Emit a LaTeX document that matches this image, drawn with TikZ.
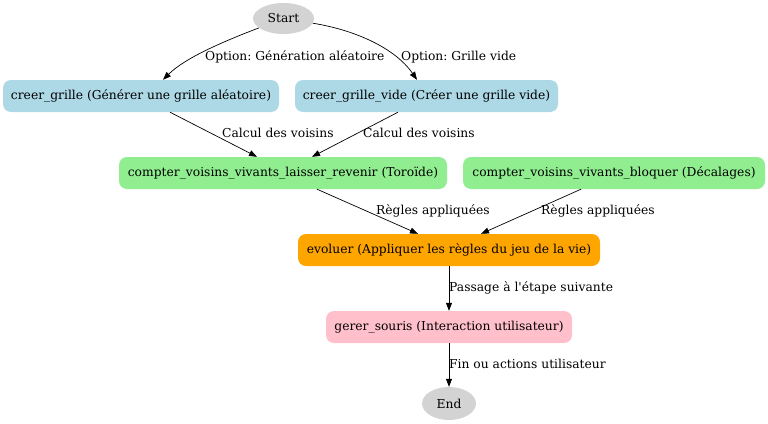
\documentclass[tikz,border=0pt]{standalone}
\usepackage{fontspec}
\setmainfont{DejaVu Serif}
\usetikzlibrary{arrows.meta,shapes.geometric}
\definecolor{lblue}{HTML}{ADD8E6}
\definecolor{lgreen}{HTML}{90EE90}
\definecolor{lgray}{HTML}{D3D3D3}
\definecolor{orng}{HTML}{FFA500}
\definecolor{pnk}{HTML}{FFC0CB}
\frenchspacing
\begin{document}
\begin{tikzpicture}[x=1pt,y=-1pt,
  every node/.style={font=\fontsize{12.3}{14}\selectfont, inner sep=0pt},
  box/.style={rounded corners=8pt, minimum height=32pt, anchor=center},
  term/.style={ellipse, fill=lgray},
  lbl/.style={anchor=west},
  edge/.style={draw=black, line width=0.7pt, -{Triangle[length=8pt,width=6pt]}}]
\useasboundingbox (0,0) rectangle (768,423);
\node[term, minimum width=61pt, minimum height=31pt] (start) at (283.5,18.5) {Start};
\node[box, fill=lblue, minimum width=276pt] (cg) at (141,96) {creer\_grille (Générer une grille aléatoire)};
\node[box, fill=lblue, minimum width=263pt] (cgv) at (426.5,96) {creer\_grille\_vide (Créer une grille vide)};
\node[box, fill=lgreen, minimum width=328pt] (lr) at (283,173) {compter\_voisins\_vivants\_laisser\_revenir (Toroïde)};
\node[box, fill=lgreen, minimum width=302pt] (bl) at (614,173) {compter\_voisins\_vivants\_bloquer (Décalages)};
\node[box, fill=orng, minimum width=302pt] (ev) at (449,250) {evoluer (Appliquer les règles du jeu de la vie)};
\node[box, fill=pnk, minimum width=246pt] (gs) at (449,327) {gerer\_souris (Interaction utilisateur)};
\node[term, minimum width=54pt, minimum height=33pt] (end) at (449,403.5) {End};

\draw[edge] (start) .. controls (222,42) and (185,58) .. (cg.north -| 163,0);
\draw[edge] (start) .. controls (355,30) and (395,48) .. (cgv.north -| 417,0);
\draw[edge] (cg.south -| 170,0) -- (lr.north -| 257,0);
\draw[edge] (cgv.south -| 398,0) -- (lr.north -| 312,0);
\draw[edge] (lr.south -| 317,0) -- (ev.north -| 418,0);
\draw[edge] (bl.south -| 581,0) -- (ev.north -| 481,0);
\draw[edge] (ev) -- (gs);
\draw[edge] (gs) -- (end);

\node[lbl] (l1) at (205,57) {Option: Génération aléatoire};
\node[lbl] (l2) at (401,57) {Option: Grille vide};
\node[lbl] (l3) at (222,133) {Calcul des voisins};
\node[lbl] (l4) at (363,133) {Calcul des voisins};
\node[lbl] (l5) at (376,211) {Règles appliquées};
\node[lbl] (l6) at (541,211) {Règles appliquées};
\node[lbl] (l7) at (449,288) {Passage à l\textquotesingle étape suivante};
\node[lbl] (l8) at (449,364) {Fin ou actions utilisateur};
\end{tikzpicture}
\end{document}
